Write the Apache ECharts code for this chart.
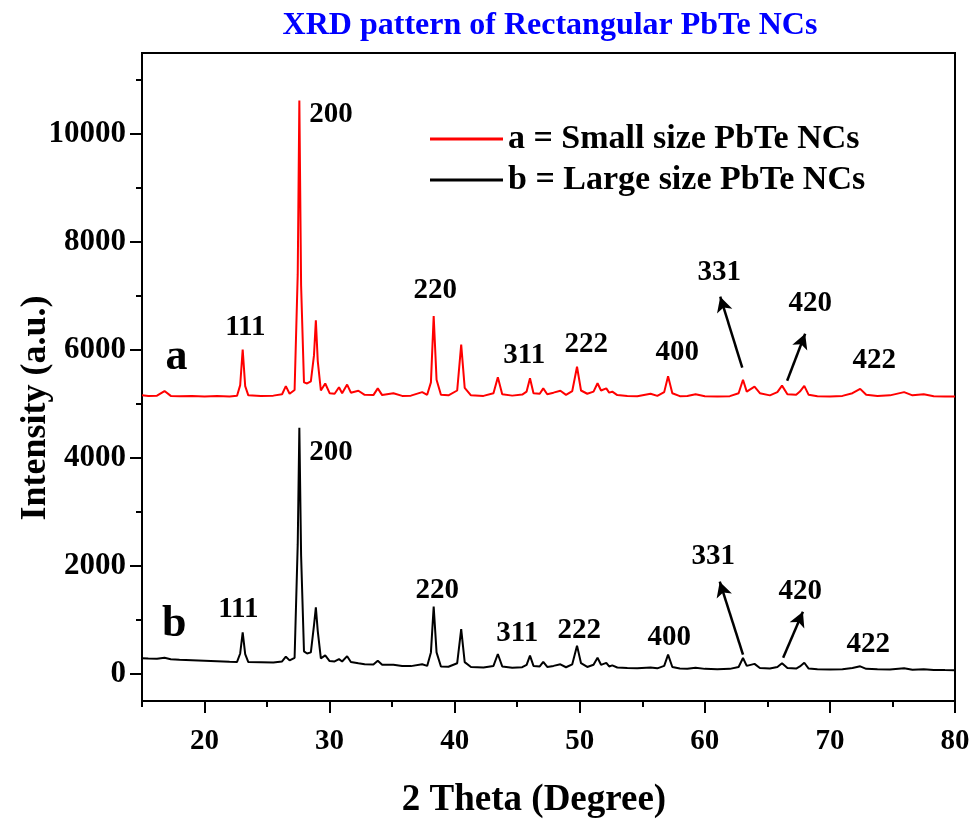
<!DOCTYPE html>
<html>
<head>
<meta charset="utf-8">
<script src="https://cdn.jsdelivr.net/npm/echarts@6/dist/echarts.min.js"></script>
<style>html,body{margin:0;padding:0;background:#fff}#c{width:974px;height:824px}</style>
</head>
<body>
<div id="c"></div>
<script>
// ---- data ----
const twoTheta = [15.0,15.5,16.2,16.8,17.3,18.0,19.0,20.0,21.0,22.0,
  22.6,22.85,23.05,23.25,23.5,24.5,25.5,26.2,26.5,26.8,
  27.2,27.45,27.58,27.72,27.95,28.2,28.5,28.75,28.9,29.05,
  29.3,29.65,30.0,30.4,30.75,31.0,31.4,31.7,32.3,32.8,
  33.5,33.85,34.2,35.1,35.8,36.5,37.4,37.8,38.1,38.32,
  38.55,38.9,39.5,40.2,40.52,40.8,41.3,42.3,43.1,43.45,
  43.8,44.6,45.4,45.75,46.02,46.3,46.8,47.08,47.4,47.9,
  48.45,48.9,49.4,49.78,50.1,50.6,51.1,51.42,51.7,52.12,
  52.35,52.6,53.0,53.8,54.6,55.66,56.2,56.75,57.06,57.4,
  58.0,58.6,59.26,60.0,61.0,62.0,62.7,63.05,63.35,63.97,
  64.4,65.2,65.8,66.17,66.6,67.3,67.6,67.95,68.3,69.0,
  70.0,71.0,71.8,72.42,72.9,73.8,74.8,75.93,76.6,77.5,
  78.3,79.2,80.0];
const intensityA = [5160,5150,5155,5240,5150,5145,5150,5140,5146,5140,
  5152,5350,6010,5330,5160,5150,5155,5180,5330,5190,
  5260,7400,10620,7200,5400,5380,5420,5900,6550,5800,
  5250,5380,5200,5190,5310,5200,5360,5210,5245,5170,
  5165,5290,5165,5200,5150,5155,5220,5170,5400,6630,
  5450,5170,5160,5250,6100,5300,5160,5150,5200,5495,
  5180,5155,5175,5230,5475,5200,5190,5290,5180,5210,
  5245,5170,5240,5690,5250,5190,5230,5385,5250,5290,
  5210,5228,5165,5150,5145,5190,5150,5220,5515,5200,
  5145,5150,5180,5145,5140,5145,5200,5450,5230,5320,
  5200,5160,5220,5340,5180,5170,5230,5335,5170,5145,
  5140,5150,5200,5280,5170,5150,5160,5220,5160,5180,
  5145,5140,5140];
const intensityB = [290,285,282,300,272,265,256,246,236,226,
  224,380,770,370,220,216,212,232,320,252,
  300,2400,4560,2200,420,380,400,900,1235,800,
  290,345,240,232,275,232,330,222,200,182,
  176,245,170,172,150,146,180,150,400,1250,
  400,140,135,200,830,220,130,120,150,370,
  140,116,126,170,340,150,140,225,130,150,
  180,125,180,525,200,130,170,300,170,205,
  140,160,120,110,106,120,105,150,358,130,
  100,98,115,95,90,95,130,296,150,187,
  110,100,130,200,110,100,140,208,100,86,
  84,90,110,142,95,86,85,107,80,90,
  76,72,70];
const seriesNames = ['a = Small size PbTe NCs', 'b = Large size PbTe NCs'];
const xMajorTicks = [20,30,40,50,60,70,80];
const xMinorTicks = [15,25,35,45,55,65,75];
const yMajorTicks = [0,2000,4000,6000,8000,10000];
const yMinorTicks = [1000,3000,5000,7000,9000,11000];
const peakLabels = ['111','200','220','311','222','400','331','420','422'];

// ---- annotation anchors (data coordinates) ----
const labelAnchorsA = [[23.26,6413],[30.11,10357],[38.45,7098],[45.56,5894],[50.52,6098],[57.79,5950],[61.15,7431],[68.42,6857],[73.54,5802]];
const labelAnchorsB = [[22.70,1191],[30.11,4098],[38.61,1543],[45.0,747],[49.96,802],[57.15,672],[60.67,2172],[67.62,1524],[73.06,543]];
const curveTags = [['a',[17.76,5857]],['b',[17.58,913]]];
const arrows = [
  [[62.99,5672],[61.23,6987]], [[66.58,5431],[68.02,6302]],
  [[63.05,357],[61.19,1709]], [[66.26,302],[67.84,1154]]
];

const FONT = "'Liberation Serif','Times New Roman',serif";
const pairs = (ys) => twoTheta.map((t, i) => [t, ys[i]]);

const annData = [];
peakLabels.forEach((p, i) => { annData.push({ name: p, value: labelAnchorsA[i] }); });
peakLabels.forEach((p, i) => { annData.push({ name: p, value: labelAnchorsB[i] }); });
curveTags.forEach(([t, c]) => { annData.push({ name: t, value: c, label: { fontSize: 44 } }); });

const chart = echarts.init(document.getElementById('c'), null, { renderer: 'canvas' });
chart.setOption({
  animation: false,
  backgroundColor: '#fff',
  grid: { left: 142, right: 19, top: 53, bottom: 123, show: true, borderColor: '#000', borderWidth: 2, backgroundColor: 'transparent' },
  legend: {
    data: seriesNames, orient: 'vertical', left: 425, top: 116,
    icon: 'rect', itemWidth: 73, itemHeight: 3, itemGap: 5,
    textStyle: { fontFamily: FONT, fontWeight: 'bold', fontSize: 34, color: '#000', lineHeight: 36 }
  },
  graphic: [
    { type: 'text', x: 550, y: 26, style: { text: 'XRD pattern of Rectangular PbTe NCs', font: "bold 32px " + FONT, fill: '#0000ff', align: 'center', verticalAlign: 'middle' } },
    { type: 'text', x: 534, y: 800, style: { text: '2 Theta (Degree)', font: "bold 37px " + FONT, fill: '#000', align: 'center', verticalAlign: 'middle' } },
    { type: 'text', x: 36, y: 408, rotation: Math.PI / 2, style: { text: 'Intensity (a.u.)', font: "bold 36px " + FONT, fill: '#000', align: 'center', verticalAlign: 'middle' } }
  ],
  xAxis: [
    { type: 'value', min: 15, max: 80, position: 'bottom',
      axisLine: { show: true, onZero: false, lineStyle: { color: '#000', width: 2 } },
      axisTick: { show: true, customValues: xMajorTicks, length: 12, inside: false, lineStyle: { color: '#000', width: 2 } },
      axisLabel: { customValues: xMajorTicks, margin: 26, fontFamily: FONT, fontWeight: 'bold', fontSize: 29, color: '#000', formatter: (v) => String(v) },
      splitLine: { show: false } },
    { type: 'value', min: 15, max: 80, position: 'bottom', gridIndex: 0,
      axisLine: { show: false, onZero: false },
      axisTick: { show: true, customValues: xMinorTicks, length: 6, inside: false, lineStyle: { color: '#000', width: 2 } },
      axisLabel: { show: false }, splitLine: { show: false } }
  ],
  yAxis: [
    { type: 'value', min: -500, max: 11500, position: 'left',
      axisLine: { show: true, onZero: false, lineStyle: { color: '#000', width: 2 } },
      axisTick: { show: true, customValues: yMajorTicks, length: 12, inside: false, lineStyle: { color: '#000', width: 2 } },
      axisLabel: { customValues: yMajorTicks, margin: 16, fontFamily: FONT, fontWeight: 'bold', fontSize: 31, color: '#000', formatter: (v) => String(v) },
      splitLine: { show: false } },
    { type: 'value', min: -500, max: 11500, position: 'left', gridIndex: 0,
      axisLine: { show: false, onZero: false },
      axisTick: { show: true, customValues: yMinorTicks, length: 6, inside: false, lineStyle: { color: '#000', width: 2 } },
      axisLabel: { show: false }, splitLine: { show: false } }
  ],
  series: [
    { name: seriesNames[0], type: 'line', data: pairs(intensityA), showSymbol: false, symbol: 'none',
      lineStyle: { color: '#ff0000', width: 2 }, itemStyle: { color: '#ff0000' }, z: 3 },
    { name: seriesNames[1], type: 'line', data: pairs(intensityB), showSymbol: false, symbol: 'none',
      lineStyle: { color: '#000', width: 2 }, itemStyle: { color: '#000' }, z: 3 },
    { name: 'annotations', type: 'scatter', data: annData, symbolSize: 1, silent: true,
      itemStyle: { color: 'rgba(0,0,0,0)', opacity: 1 },
      label: { show: true, position: 'inside', formatter: '{b}', fontFamily: FONT, fontWeight: 'bold', fontSize: 29, color: '#000', opacity: 1 },
      markLine: { silent: true, symbol: ['none', 'arrow'], symbolSize: [12, 15],
        lineStyle: { color: '#000', width: 2.5, type: 'solid', opacity: 1 }, label: { show: false },
        data: arrows.map(([a, b]) => [{ coord: a }, { coord: b }]) },
      z: 5 }
  ]
});
</script>
</body>
</html>
